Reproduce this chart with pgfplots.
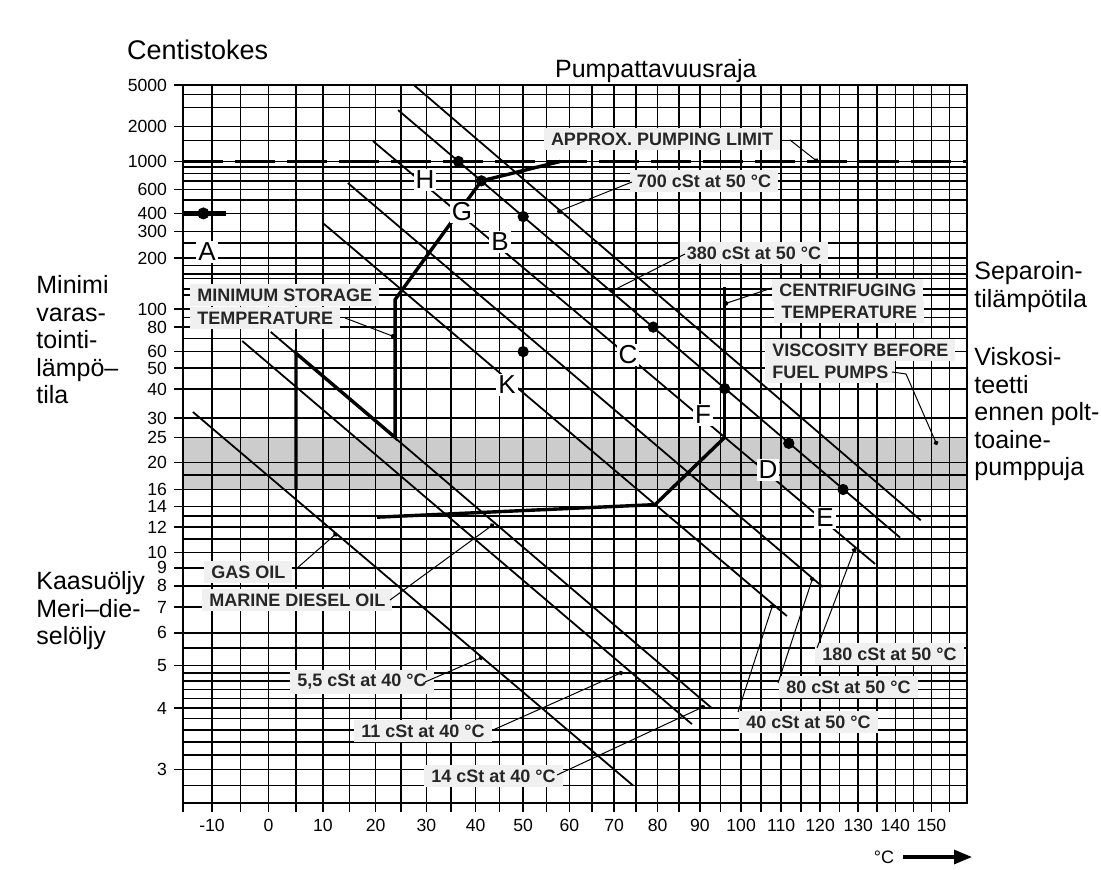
\documentclass[border=0pt]{standalone}
\usepackage{pgfplots}
\pgfplotsset{compat=1.18}
\usepackage{fontspec}
\setmainfont{Liberation Sans}
\usetikzlibrary{arrows.meta}
\newcommand{\lblfont}{\fontsize{9}{10}\selectfont\bfseries}
\begin{document}
\begin{tikzpicture}
\useasboundingbox (0,0) rectangle (550.5pt,-435pt);
\begin{axis}[
  at={(91.5pt,-401.5pt)}, anchor=south west,
  scale only axis, width=392pt, height=359pt,
  xmin=-15, xmax=160, ymin=2.6, ymax=5000,
  x coord trafo/.code={\pgfmathparse{ln(#1+273.15)}},
  x coord inv trafo/.code={\pgfmathparse{exp(#1)-273.15}},
  y coord trafo/.code={\pgfmathparse{ln(ln(#1+0.7))}},
  y coord inv trafo/.code={\pgfmathparse{exp(exp(#1))-0.7}},
  xtick={-10,0,10,20,30,40,50,60,70,80,90,100,110,120,130,140,150},
  xticklabels={-10,0,10,20,30,40,50,60,70,80,90,100,110,120,130,140,150},
  minor xtick={-15,-5,5,15,25,35,45,55,65,75,85,95,105,115,125,135,145,155},
  ytick={3,4,5,6,7,8,9,10,12,14,16,20,25,30,40,50,60,80,100,200,300,400,600,1000,2000,5000},
  yticklabels={3,4,5,6,7,8,9,10,12,14,16,20,25,30,40,50,60,80,100,200,300,400,600,1000,2000,5000},
  minor ytick={2.8,3.2,3.4,3.6,3.8,4.2,4.4,4.6,4.8,5.5,11,13,18,70,90,120,130,150,160,180,250,500,700,800,900,1500,3000,4000},
  grid=both,
  major grid style={black, line width=0.75pt},
  minor grid style={black, line width=0.75pt},
  axis line style={black, line width=0.8pt},
  tick align=outside, tickpos=left,
  major tick length=4.5pt, minor tick length=4.5pt,
  tick style={black, line width=0.75pt},
  minor y tick style={draw=none},
  ticklabel style={font=\fontsize{8.8}{10}\selectfont},
  oil/.style={black, line width=0.9pt},
  path/.style={black, line width=1.7pt},
]
% shaded band 16-25 cSt
\addplot[draw=none, fill=black, fill opacity=0.2] coordinates {(-15,16) (160,16) (160,25) (-15,25) (-15,16)};
% pumping limit
\addplot[black, line width=1.7pt, dash pattern=on 20pt off 6pt] coordinates {(-15,1000) (160,1000)};
% heavy fuel oil lines (cSt at 50 C)
\addplot[oil] coordinates {(27.5,5000) (147,12.6)};   % 700
\addplot[oil] coordinates {(24.4,2843) (141.3,11.1)}; % 380
\addplot[oil] coordinates {(19.5,1488) (134.5,9.24)}; % 180
\addplot[oil] coordinates {(14.7,673) (120.7,7.94)};  % 80
\addplot[oil] coordinates {(10.0,342) (111.5,6.63)};  % 40
% distillates (cSt at 40 C)
\addplot[oil] coordinates {(-13.3,31.8) (74.3,2.8)};  % 5.5
\addplot[oil] coordinates {(-4.7,67.8) (88.1,3.7)};   % 11
\addplot[oil] coordinates {(0.4,75.5) (92.9,4.0)};    % 14
% storage path
\addplot[path] coordinates {(5,16) (5,58.9) (23.8,25) (23.8,113) (41.2,700) (58,1000)};
% centrifuging / fuel pump path
\addplot[path] coordinates {(20.3,12.9) (79.4,14.2) (96,25)};
\addplot[black, line width=1.2pt] coordinates {(96,25) (96,134)};
% A
\addplot[black, line width=2.6pt] coordinates {(-15,400) (-7.5,400)};
\addplot[only marks, mark=*, mark size=2.8pt, black] coordinates {(-15,400) (-11.5,400)};
% points
\addplot[only marks, mark=*, mark size=2.6pt, black] coordinates {
 (36.5,1000) (41.2,700) (50,380) (79,80) (96,40.2) (112,23.7) (126,16) (50,60)};
\end{axis}
\begin{scope}[x=0.5pt,y=-0.5pt]
\node[anchor=base west, font=\fontsize{13.5}{15}\selectfont] at (120,60) {Centistokes};
\node[anchor=base west, font=\fontsize{12.5}{14}\selectfont] at (548,78) {Pumpattavuusraja};
\node[anchor=north west, align=left, inner sep=0pt, font=\fontsize{12.5}{13.8}\selectfont] at (36,275) {Minimi\\varas-\\tointi-\\lämpö–\\tila};
\node[anchor=north west, align=left, inner sep=0pt, font=\fontsize{12.5}{13.8}\selectfont] at (36,571) {Kaasuöljy\\Meri–die-\\selöljy};
\node[anchor=north west, align=left, inner sep=0pt, font=\fontsize{12.5}{13.8}\selectfont] at (974,261) {Separoin-\\tilämpötila};
\node[anchor=north west, align=left, inner sep=0pt, font=\fontsize{12.5}{13.8}\selectfont] at (974,347) {Viskosi-\\teetti\\ennen polt-\\toaine-\\pumppuja};
\node[font=\fontsize{9}{10}\selectfont] at (884,857) {°C};
\draw[line width=1.6pt, -{Triangle[length=9pt,width=7pt]}] (903,857) -- (972,857);
% labels
\tikzset{lab/.style={fill=gray!12, inner xsep=3.5pt, inner ysep=2.4pt, font=\lblfont, text=black!85}}
\node[lab] at (662,139) {APPROX. PUMPING LIMIT};
\node[lab] at (704,181) {700 cSt at 50 °C};
\node[lab] at (754,253) {380 cSt at 50 °C};
\node[lab, anchor=west] at (190,295) {MINIMUM STORAGE};
\node[lab, anchor=west] at (190,318) {TEMPERATURE};
\node[lab, anchor=west] at (772,290) {CENTRIFUGING};
\node[lab, anchor=west] at (774,312) {TEMPERATURE};
\node[lab, anchor=west] at (765,350) {VISCOSITY BEFORE};
\node[lab, anchor=west] at (765,372) {FUEL PUMPS};
\node[lab, anchor=west] at (204,572) {GAS OIL};
\node[lab, anchor=west] at (202,600) {MARINE DIESEL OIL};
\node[lab, anchor=west] at (290,682) {5,5 cSt at 40 °C};
\node[lab, anchor=west] at (354,731) {11 cSt at 40 °C};
\node[lab, anchor=west] at (424,776) {14 cSt at 40 °C};
\node[lab, anchor=west] at (815,654) {180 cSt at 50 °C};
\node[lab, anchor=west] at (779,687) {80 cSt at 50 °C};
\node[lab, anchor=west] at (739,722) {40 cSt at 50 °C};
% pointers
\begin{scope}[line width=0.5pt, -{Circle[length=2.4pt]}]
\draw (790,140) -- (818,162);
\draw (632,182) -- (557,212);
\draw (685,254) -- (610,292);
\draw (345,318) -- (395,337);
\draw (772,288) -- (724,304);
\draw (892,372) -- (906,374) -- (937,445);
\draw (295,570) -- (337,533);
\draw (390,600) -- (494,524);
\draw (425,682) -- (483,657);
\draw (493,730) -- (623,672);
\draw (557,775) -- (705,706);
\draw (738,712) -- (773,604);
\draw (778,683) -- (813,577);
\draw (817,648) -- (855,548);
\end{scope}
% point letters
\tikzset{let/.style={fill=white, inner sep=1pt, font=\fontsize{13}{14}\selectfont}}
\node[let] at (207,252) {A};
\node[let] at (425,180) {H};
\node[let] at (462,212) {G};
\node[let] at (500,242) {B};
\node[let] at (628,355) {C};
\node[let] at (507,385) {K};
\node[let] at (703,415) {F};
\node[let] at (768,470) {D};
\node[let] at (825,518) {E};
\end{scope}
\end{tikzpicture}
\end{document}
